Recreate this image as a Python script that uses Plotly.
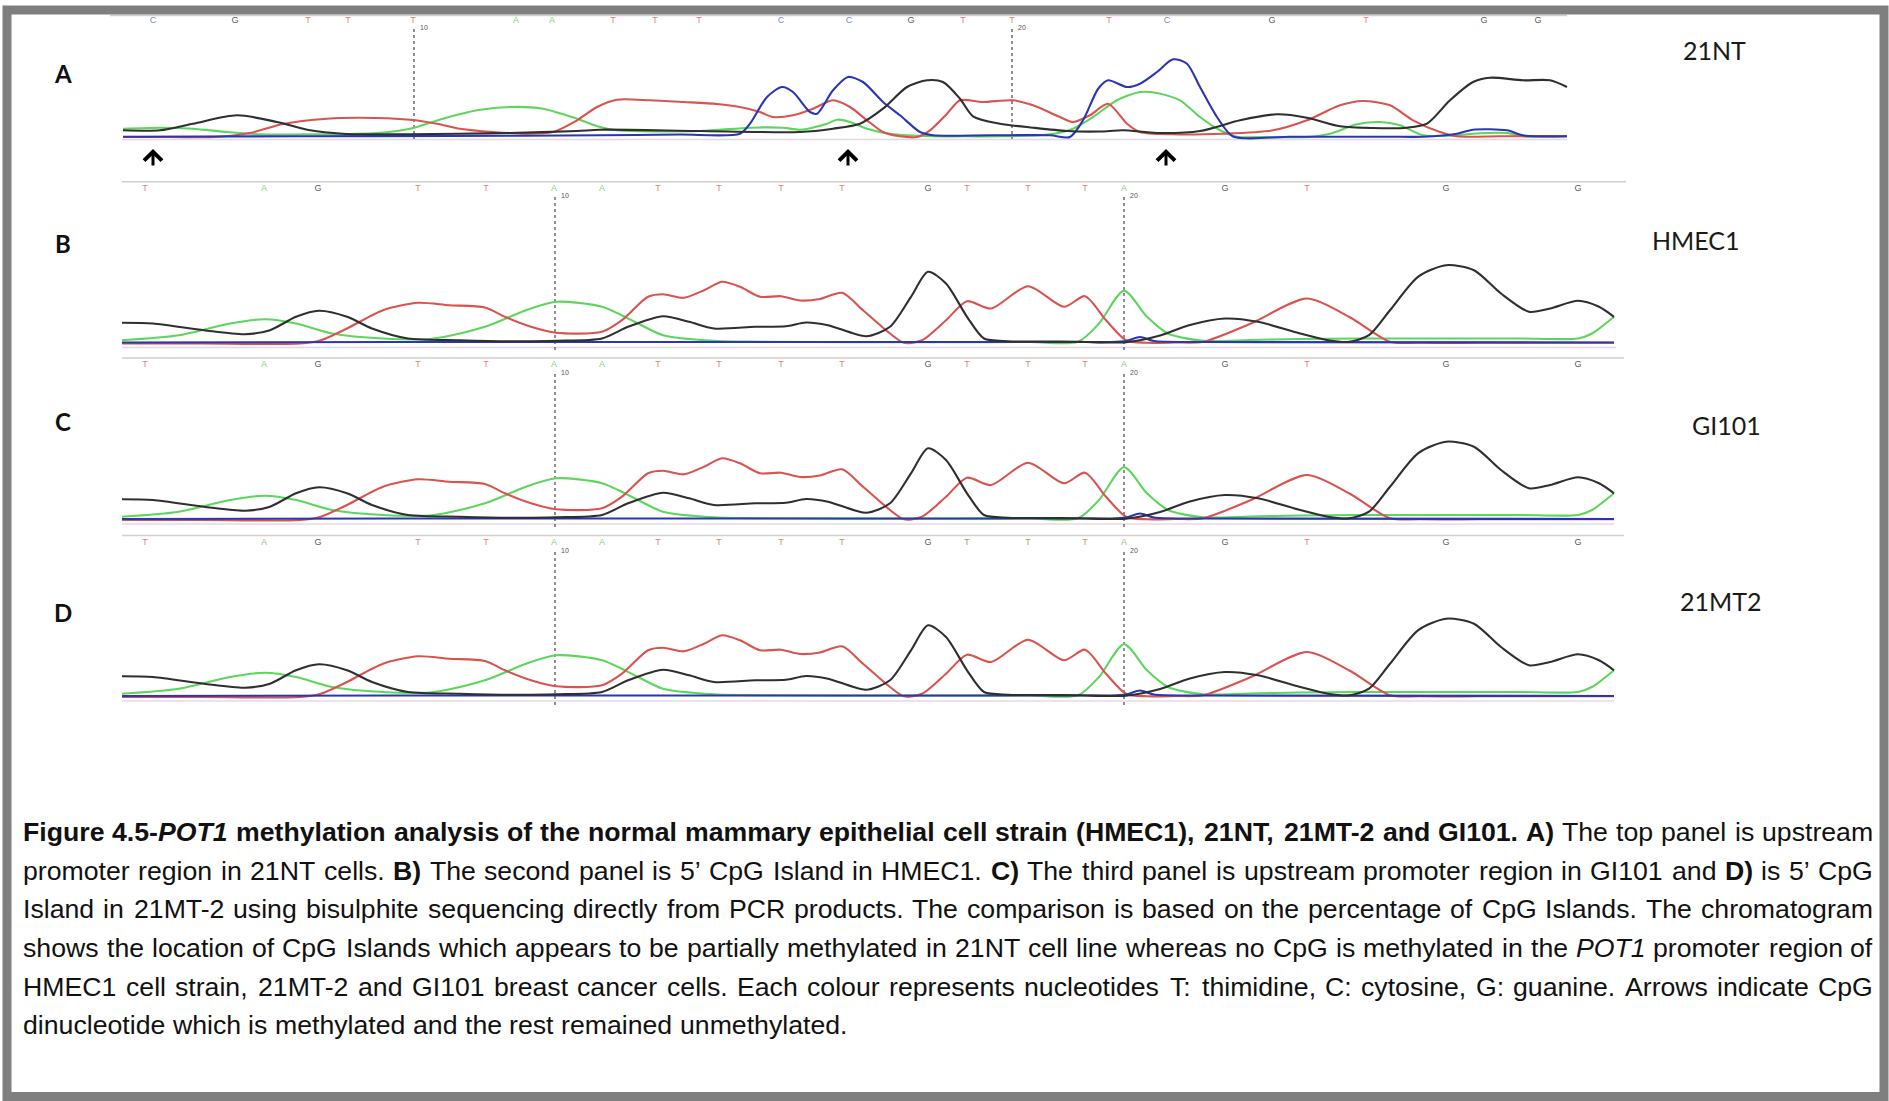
import re
import plotly.graph_objects as go

W, H = 1889, 1101

# ---------------- data ----------------
# Panel A (21NT): scan position vs signal height
aG_x = [123,160,193,237,277,310,343,410,460,510,577,600,700,800,833,860,883,907,927,943,960,973,1000,1033,1067,1100,1123,1157,1200,1240,1277,1307,1340,1373,1407,1427,1450,1473,1490,1523,1550,1567]
aG_y = [6.7,6.7,13.3,21.7,15,6.7,3.3,2.7,3.3,4,6,7.3,6,5,8.3,13.3,28.3,50,56.7,55,38.3,20.7,13.3,9.3,6,5.5,6.7,4,6,16.7,22.7,19.3,10.7,9,9.3,13.3,36.7,55,59.3,56.7,56.7,50]
aT_x = [123,170,215,250,283,327,360,410,437,460,493,527,553,577,597,617,650,683,717,740,760,773,793,813,833,850,867,883,900,917,930,947,960,983,1013,1033,1060,1073,1090,1108,1127,1140,1173,1223,1273,1307,1340,1363,1390,1413,1440,1457,1500,1540,1567]
aT_y = [0,0,0,4,13,18.3,19.3,17.3,13.3,8.3,5,3.3,5,16.7,30,37.3,36.7,35,33,30,25,20,21.7,28.3,36.7,30,16.7,5,0.7,0,6.7,23.3,36.7,35,36.7,31.7,20,15,21.7,33.3,13.3,5,2.7,3.3,6.7,16.7,31.7,36,31.7,16.7,5,0.7,0.7,0.7,0.7]
aA_x = [123,160,193,227,260,310,377,410,443,477,510,543,577,600,617,700,750,783,800,827,837,850,867,890,933,965,1000,1050,1073,1093,1117,1140,1157,1180,1200,1220,1237,1270,1307,1330,1357,1380,1400,1423,1457,1473,1507,1523,1567]
aA_y = [8.3,9.3,8.3,5,2.7,2.7,4,8.3,18.3,26.7,30,28.3,18.3,10,6.7,6,9.3,9.3,7.3,13.3,17.3,15,8.3,3.3,0.7,0.7,0.7,2.7,8.3,20,36.7,45,44,36.7,20,6.7,0.3,0,0,3.3,12.7,15,11.7,1.7,1.7,3.3,4,0.7,0.7]
aC_x = [123,200,300,450,600,680,740,750,767,782,793,810,817,833,848,863,883,900,920,933,990,1050,1070,1083,1098,1108,1127,1140,1157,1173,1187,1200,1217,1233,1290,1350,1390,1423,1457,1473,1507,1523,1567]
aC_y = [0.3,0.5,0.7,1,1.7,2.5,3.3,13.3,40,50,45,25,23.3,46.7,60,55,35,21.7,5,1.7,1.7,1.7,0,16.7,48,56.7,50,53.3,65,77.7,73.3,50,20,0.5,0.3,0.3,0.3,0.3,3.3,7.3,6.7,1.7,0.7]

# Panels B, C, D (HMEC1, GI101, 21MT2): identical unmethylated trace
bG_x = [122,153,204,245,270,296,319,347,372,408,459,510,556,602,628,663,689,714,755,786,806,828,866,890,911,928,946,967,984,1008,1040,1078,1126,1161,1189,1225,1258,1300,1328,1349,1369,1390,1418,1446,1474,1501,1529,1550,1578,1599,1614]
bG_y = [20.7,20,13.3,9.3,13.3,26.7,32.7,26.7,15,5,3.3,2.3,2.7,5,16.7,27.3,21.7,15,16.7,17.3,21,18.3,7.3,16.7,46.7,71.7,60,26.7,5,2.3,2,1.7,1.3,8.3,18.3,25,21.7,10,3.3,1.7,8.3,33.3,66.7,78.3,73.3,50,31.7,35,42.7,36.7,26.7]
bT_x = [122,200,300,320,347,383,418,449,485,505,531,556,602,622,648,663,684,704,722,740,760,781,800,820,842,863,890,904,922,946,967,991,1028,1064,1085,1106,1126,1147,1175,1203,1251,1307,1349,1390,1420,1480,1550,1614]
bT_y = [0,0,0,3,15,33.3,40.7,38.3,36,26.7,16.7,10.7,11.7,23.3,46.7,49.3,45.7,53.3,61.7,56.7,46.7,47.3,43,44.5,50.7,33.3,10,0.7,3.3,23.3,42.3,35,57.3,36.7,47.3,23.3,3.3,0.7,1,1.7,20,45,26.7,1.7,0.7,0.7,0.7,0.7]
bA_x = [122,179,230,265,296,332,383,434,485,526,556,602,638,663,714,760,850,950,1030,1078,1099,1124,1147,1168,1203,1250,1300,1356,1450,1520,1578,1592,1614]
bA_y = [3.3,8.3,20,24.3,20,10,5,5,16.7,33.3,41.7,36.7,20,8.3,2.7,1.8,1.3,1.3,1.5,1.7,20,52.7,26.7,10,2.7,3.5,4.5,5,5,5,5,10,26.7]
bC_x = [122,400,600,900,1080,1110,1126,1140,1154,1200,1614]
bC_y = [1,1.5,1.5,1.5,1.5,1.5,2.5,6.5,2.5,1.5,1]

# base calls
seqA = list("CGTTTAATTTCCGTTTCGTGG")
posA = [153,235,308,348,413,516,552,613,655,699,781,849,911,963,1012,1109,1167,1272,1366,1484,1538]
seqB = list("TAGTTAATTTTGTTTAGTGG")
posB = [145,264,318,418,486,554,602,658,719,781,842,928,967,1028,1085,1124,1225,1307,1446,1578]

dashA = [(414, "10"), (1012, "20")]
dashB = [(555, "10"), (1124, "20")]
arrowsA = [153, 848, 1166]

cells = ["21NT", "HMEC1", "GI101", "21MT2"]
letters = ["A", "B", "C", "D"]

caption_lines = [
    "<b>Figure 4.5-<i>POT1</i> methylation analysis of the normal mammary epithelial cell strain (HMEC1), 21NT, 21MT-2 and GI101. A)</b> The top panel is upstream",
    "promoter region in 21NT cells. <b>B)</b> The second panel is 5’ CpG Island in HMEC1. <b>C)</b> The third panel is upstream promoter region in GI101 and <b>D)</b> is 5’ CpG",
    "Island in 21MT-2 using bisulphite sequencing directly from PCR products. The comparison is based on the percentage of CpG Islands. The chromatogram",
    "shows the location of CpG Islands which appears to be partially methylated in 21NT cell line whereas no CpG is methylated in the <i>POT1</i> promoter region of",
    "HMEC1 cell strain, 21MT-2 and GI101 breast cancer cells. Each colour represents nucleotides T: thimidine, C: cytosine, G: guanine. Arrows indicate CpG",
    "dinucleotide which is methylated and the rest remained unmethylated.",
]

# ---------------- styling ----------------
COL = {"G": "#2f2f2f", "T": "#d9534f", "A": "#5cd65c", "C": "#2b36b5"}
LETTER_COL = {"G": "#5a5a5a", "T": "#e08080", "A": "#7fcf7f", "C": "#7a86cf"}

traceA = {"A": (aA_x, aA_y), "T": (aT_x, aT_y), "C": (aC_x, aC_y), "G": (aG_x, aG_y)}
traceB = {"A": (bA_x, bA_y), "T": (bT_x, bT_y), "C": (bC_x, bC_y), "G": (bG_x, bG_y)}

panels = [
    dict(base=137, top=15.5, let_y=21, bot=139.5, lx=(110, 1567), dtop=29, dbot=139,
         seq=seqA, pos=posA, dash=dashA, tr=traceA, lab_y=74, cell_xy=(1714, 50)),
    dict(base=343.5, top=181.7, let_y=188.5, bot=347.5, lx=(122, 1626), dtop=197, dbot=352,
         seq=seqB, pos=posB, dash=dashB, tr=traceB, lab_y=244, cell_xy=(1696, 240)),
    dict(base=520, top=358, let_y=365, bot=524, lx=(122, 1624), dtop=374, dbot=528,
         seq=seqB, pos=posB, dash=dashB, tr=traceB, lab_y=421, cell_xy=(1726, 425)),
    dict(base=697, top=535.5, let_y=543, bot=701, lx=(122, 1624), dtop=552, dbot=705,
         seq=seqB, pos=posB, dash=dashB, tr=traceB, lab_y=612, cell_xy=(1720, 601)),
]

fig = go.Figure()
annotations = []
layout_axes = {}

for k, p in enumerate(panels):
    sfx = "" if k == 0 else str(k + 1)
    xa, ya = "x" + sfx, "y" + sfx
    b = p["base"]
    layout_axes["xaxis" + sfx] = dict(domain=[0, 1], range=[0, W], visible=False, anchor=ya)
    layout_axes["yaxis" + sfx] = dict(domain=[0, 1], range=[b - H, b], visible=False, anchor=xa)
    # top rule and faint bottom rule
    fig.add_trace(go.Scatter(x=list(p["lx"]), y=[b - p["top"]] * 2, mode="lines",
                             line=dict(color="#cfcfcf", width=1.5), xaxis=xa, yaxis=ya, hoverinfo="skip"))
    fig.add_trace(go.Scatter(x=[p["lx"][0] + 12 if k == 0 else p["lx"][0], p["lx"][1] - (0 if k == 0 else 10)],
                             y=[b - p["bot"]] * 2, mode="lines",
                             line=dict(color="#e4d8e4", width=1.5), xaxis=xa, yaxis=ya, hoverinfo="skip"))
    # dashed position markers
    for xpos, lab in p["dash"]:
        fig.add_trace(go.Scatter(x=[xpos, xpos], y=[b - p["dtop"], b - p["dbot"]], mode="lines",
                                 line=dict(color="#555555", width=1.3, dash="dot"),
                                 xaxis=xa, yaxis=ya, hoverinfo="skip"))
        fig.add_trace(go.Scatter(x=[xpos + 10], y=[b - p["dtop"] + 1], mode="text", text=[lab],
                                 textfont=dict(size=7, color="#555555", family="Liberation Sans"),
                                 xaxis=xa, yaxis=ya, hoverinfo="skip"))
    # base calls
    fig.add_trace(go.Scatter(x=p["pos"], y=[b - p["let_y"]] * len(p["pos"]), mode="text", text=p["seq"],
                             textfont=dict(size=9, family="Liberation Sans",
                                           color=[LETTER_COL[s] for s in p["seq"]]),
                             xaxis=xa, yaxis=ya, hoverinfo="skip"))
    # chromatogram traces
    for base_name in ["A", "T", "C", "G"]:
        xs, ys = p["tr"][base_name]
        fig.add_trace(go.Scatter(x=xs, y=ys, mode="lines",
                                 line=dict(color=COL[base_name], width=2.1, shape="spline", smoothing=0.75),
                                 xaxis=xa, yaxis=ya, hoverinfo="skip"))
    # panel letter and cell line name
    annotations.append(dict(x=63 / W, y=1 - p["lab_y"] / H, xref="paper", yref="paper",
                            text="<b>%s</b>" % letters[k], showarrow=False,
                            font=dict(family="Lato", size=24, color="#111111"),
                            xanchor="center", yanchor="middle"))
    cx, cy = p["cell_xy"]
    annotations.append(dict(x=cx / W, y=1 - cy / H, xref="paper", yref="paper",
                            text=cells[k], showarrow=False,
                            font=dict(family="Lato", size=25, color="#1a1a1a"),
                            xanchor="center", yanchor="middle"))

# CpG arrows in panel A
for xa_ in arrowsA:
    annotations.append(dict(x=xa_, y=-12, xref="x", yref="y", ax=0, ay=18, text="",
                            showarrow=True, arrowhead=4, arrowwidth=3, arrowsize=1.15,
                            arrowcolor="#000000", standoff=0))

# ---------------- caption (justified, word by word) ----------------
REG, BOLD = {}, {}
for ch, w in zip("abcdefghijklmnopqrstuvwxyz",
                 [556,556,500,556,556,278,556,556,222,222,500,222,833,556,556,556,556,333,500,278,556,500,722,500,500,500]):
    REG[ch] = w
for ch, w in zip("ABCDEFGHIJKLMNOPQRSTUVWXYZ",
                 [667,667,722,722,667,611,778,722,278,500,667,556,833,722,778,667,778,722,667,611,722,667,944,667,667,611]):
    REG[ch] = w
for ch, w in zip("abcdefghijklmnopqrstuvwxyz",
                 [556,611,556,611,556,333,611,611,278,278,556,278,889,611,611,611,611,389,556,333,611,556,778,556,556,500]):
    BOLD[ch] = w
for ch, w in zip("ABCDEFGHIJKLMNOPQRSTUVWXYZ",
                 [722,722,722,722,667,611,778,722,278,556,722,611,833,722,778,667,778,722,667,611,722,667,944,667,667,611]):
    BOLD[ch] = w
for ch in "0123456789":
    REG[ch] = 556
    BOLD[ch] = 556
REG.update({" ": 278, ".": 278, ",": 278, "(": 333, ")": 333, "-": 333, ":": 278, "’": 222})
BOLD.update({" ": 278, ".": 278, ",": 278, "(": 333, ")": 333, "-": 333, ":": 333, "’": 278})


def split_words(line):
    bold = ital = False
    words, cur = [], []
    for tok in re.split(r"(</?[bi]>)", line):
        if tok == "<b>":
            bold = True
        elif tok == "</b>":
            bold = False
        elif tok == "<i>":
            ital = True
        elif tok == "</i>":
            ital = False
        else:
            for ch in tok:
                if ch == " ":
                    if cur:
                        words.append(cur)
                        cur = []
                else:
                    cur.append((ch, bold, ital))
    if cur:
        words.append(cur)
    return words


def word_html(word):
    runs = []
    for ch, bb, ii in word:
        if runs and runs[-1][1] == bb and runs[-1][2] == ii:
            runs[-1][0] += ch
        else:
            runs.append([ch, bb, ii])
    out = ""
    for t, bb, ii in runs:
        s = t
        if ii:
            s = "<i>" + s + "</i>"
        if bb:
            s = "<b>" + s + "</b>"
        out += s
    return out


def word_em(word):
    return sum((BOLD if bb else REG).get(ch, 556) for ch, bb, ii in word) / 1000.0


X_LEFT, X_RIGHT = 23, 1873
all_words = [split_words(l) for l in caption_lines]
# largest size that keeps a comfortable gap on every justified line
FS = 27.0
for words in all_words[:-1]:
    em = sum(word_em(w) for w in words) + 0.3 * (len(words) - 1)
    FS = min(FS, (X_RIGHT - X_LEFT) / em)

line_ys = [832, 871, 909, 948, 987, 1025]
for li, words in enumerate(all_words):
    widths = [word_em(w) * FS for w in words]
    last = li == len(all_words) - 1
    if last:
        gap = 0.278 * FS
    else:
        gap = (X_RIGHT - X_LEFT - sum(widths)) / (len(words) - 1)
    x = X_LEFT
    for w, wd in zip(words, widths):
        annotations.append(dict(x=(x + wd / 2) / W, y=1 - line_ys[li] / H, xref="paper", yref="paper",
                                text=word_html(w), showarrow=False,
                                font=dict(family="Liberation Sans", size=FS, color="#111111"),
                                xanchor="center", yanchor="middle"))
        x += wd + gap

# gray frame
shapes = [dict(type="rect", xref="paper", yref="paper",
               x0=7 / W, x1=1884 / W, y0=1 - 1096.5 / H, y1=1 - 10 / H,
               line=dict(color="#7f7f7f", width=9), fillcolor="rgba(0,0,0,0)")]

fig.update_layout(width=W, height=H, margin=dict(l=0, r=0, t=0, b=0),
                  paper_bgcolor="white", plot_bgcolor="rgba(0,0,0,0)",
                  showlegend=False, annotations=annotations, shapes=shapes, **layout_axes)

fig.write_html("out.html")
